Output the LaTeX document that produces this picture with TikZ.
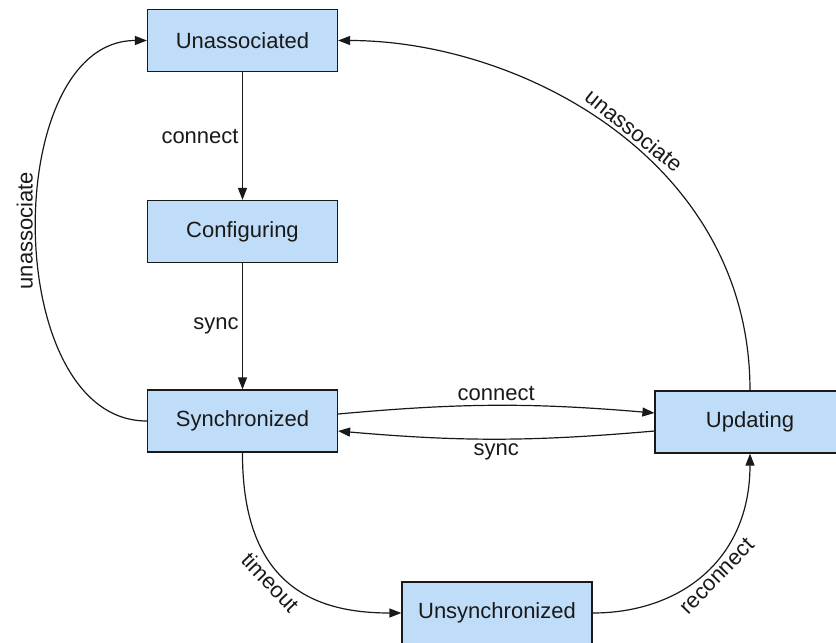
\documentclass[tikz,border=0pt]{standalone}
\usepackage{fontspec}
\setmainfont{Liberation Sans}
\usetikzlibrary{arrows.meta}
\definecolor{boxfill}{RGB}{191,220,248}
\definecolor{ink}{RGB}{25,25,25}
\begin{document}
\begin{tikzpicture}[x=1pt,y=-1pt,
  state/.style={draw=ink, line width=1.2pt, fill=boxfill, minimum width=190pt, minimum height=62pt, font=\fontsize{22}{26}\selectfont, text=ink, inner sep=0pt},
  trans/.style={draw=ink, line width=1.2pt, -{Triangle[length=12pt,width=9pt]}},
  lbl/.style={font=\fontsize{22}{26}\selectfont, text=ink}]
\useasboundingbox (0,0) rectangle (836,643);
\node[state] (ua) at (242.5,40.5) {Unassociated};
\node[state] (cf) at (242.5,231.5) {Configuring};
\node[state] (sy) at (242.5,421) {Synchronized};
\node[state] (up) at (750,422) {Updating};
\node[state] (us) at (497,613) {Unsynchronized};

\draw[trans] (ua) -- node[lbl, left] {connect} (cf);
\draw[trans] (cf) -- node[lbl, left] {sync} (sy);
\draw[trans] (sy.west) .. controls (0,421) and (0,40.5) .. node[lbl, midway, sloped, above=0pt] {unassociate} (ua.west);
\draw[trans] (up.north) .. controls (750,160) and (520,40.5) .. node[lbl, pos=0.47, sloped, above=0pt] {unassociate} (ua.east);
\draw[trans] ([yshift=7pt]sy.east) to[bend left=5] node[lbl, above=1pt] {connect} ([yshift=9pt]up.west);
\draw[trans] ([yshift=-9pt]up.west) to[bend left=5] node[lbl, below=1pt] {sync} ([yshift=-10pt]sy.east);
\draw[trans] (sy.south) .. controls (242,590) and (320,613) .. node[lbl, pos=0.43, sloped, below=0pt] {timeout} (us.west);
\draw[trans] (us.east) .. controls (680,613) and (750,560) .. node[lbl, pos=0.53, sloped, below=0pt] {reconnect} (up.south);
\end{tikzpicture}
\end{document}
